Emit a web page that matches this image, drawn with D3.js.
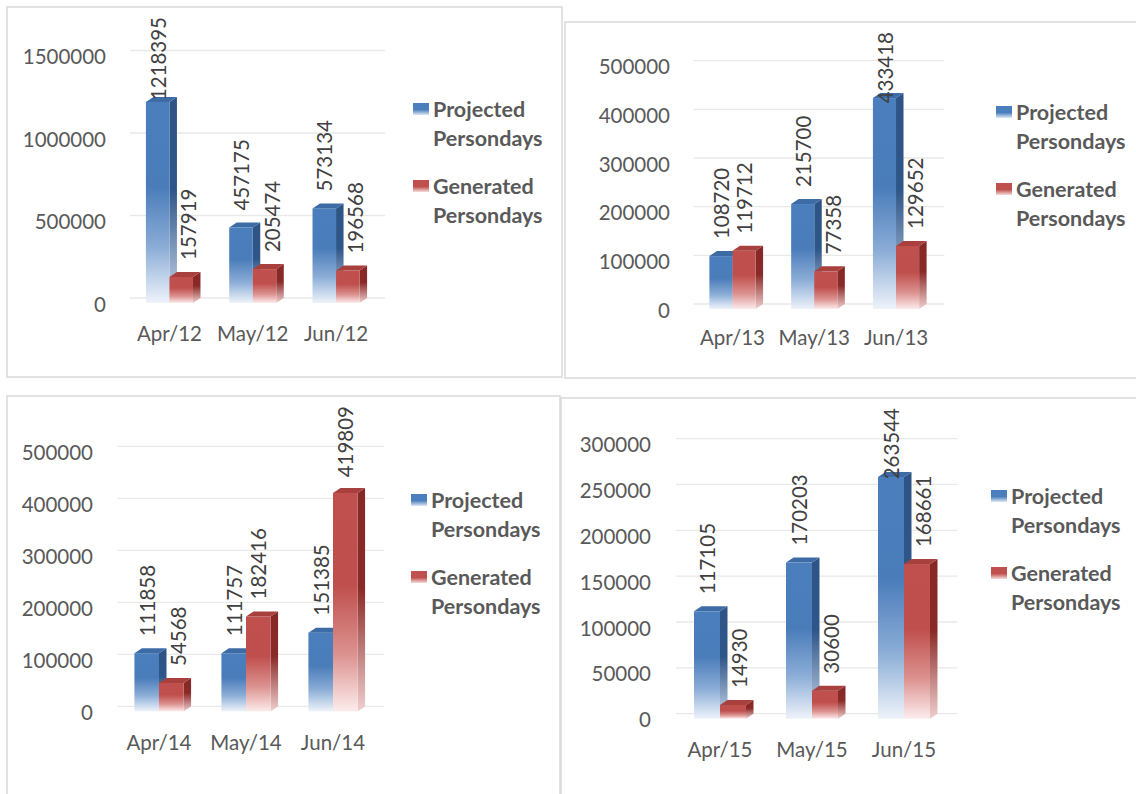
<!DOCTYPE html>
<html>
<head>
<meta charset="utf-8">
<script src="https://cdn.jsdelivr.net/npm/d3@7"></script>
<style>
  html, body { margin: 0; padding: 0; background: #ffffff; }
  svg { display: block; }
  text { font-family: Lato, "Open Sans", "Liberation Sans", sans-serif; }
</style>
</head>
<body>
<svg id="chart" width="1136" height="794"></svg>
<script>
// ---- data ----
const seriesNames = [["Projected", "Persondays"], ["Generated", "Persondays"]];

const categories12 = ["Apr/12", "May/12", "Jun/12"];
const projected12  = [1218395, 457175, 573134];
const generated12  = [157919, 205474, 196568];
const ticks12      = [0, 500000, 1000000, 1500000];

const categories13 = ["Apr/13", "May/13", "Jun/13"];
const projected13  = [108720, 215700, 433418];
const generated13  = [119712, 77358, 129652];
const ticks13      = [0, 100000, 200000, 300000, 400000, 500000];

const categories14 = ["Apr/14", "May/14", "Jun/14"];
const projected14  = [111858, 111757, 151385];
const generated14  = [54568, 182416, 419809];
const ticks14      = [0, 100000, 200000, 300000, 400000, 500000];

const categories15 = ["Apr/15", "May/15", "Jun/15"];
const projected15  = [117105, 170203, 263544];
const generated15  = [14930, 30600, 168661];
const ticks15      = [0, 50000, 100000, 150000, 200000, 250000, 300000];

// ---- layout of the four panels ----
const panels = [
  { cats: categories12, proj: projected12, gen: generated12, ticks: ticks12,
    box: [7, 7, 555, 370], plot: [127.8, 377.7], y0: 303, yTop: 55.5,
    tickX: 106, catY: 334, legX: 413, legY: 109 },
  { cats: categories13, proj: projected13, gen: generated13, ticks: ticks13,
    box: [565, 22, 600, 356], plot: [691.6, 936.9], y0: 309, yTop: 65.7,
    tickX: 670, catY: 338, legX: 996, legY: 112 },
  { cats: categories14, proj: projected14, gen: generated14, ticks: ticks14,
    box: [7, 396, 553, 420], plot: [115.5, 376.5], y0: 711.4, yTop: 451.3,
    tickX: 93, catY: 743, legX: 411, legY: 500 },
  { cats: categories15, proj: projected15, gen: generated15, ticks: ticks15,
    box: [561, 398, 600, 420], plot: [674, 950], y0: 718.7, yTop: 443.6,
    tickX: 651, catY: 750, legX: 991, legY: 496 }
];

const DX = 7.5, DY = -5;           // depth of the 3D columns
const AXIS_COLOR = "#595959";
const LABEL_COLOR = "#404040";

const svg = d3.select("#chart");
const defs = svg.append("defs");

// gradients: solid at the top, washing out toward the floor
function vGrad(id, stops) {
  const g = defs.append("linearGradient").attr("id", id)
    .attr("x1", 0).attr("y1", 0).attr("x2", 0).attr("y2", 1);
  stops.forEach(([o, c]) => g.append("stop").attr("offset", o).attr("stop-color", c));
}
vGrad("blueFront", [[0, "#4a7ebd"], [0.42, "#4a7cba"], [0.72, "#8aacd6"], [1, "#eef3fa"]]);
vGrad("blueSide",  [[0, "#2d5485"], [0.45, "#2f5688"], [1, "#c9d7ea"]]);
vGrad("redFront",  [[0, "#c0504d"], [0.42, "#bf4f4c"], [0.74, "#dc9290"], [1, "#fcecec"]]);
vGrad("redSide",   [[0, "#862826"], [0.45, "#8a2a28"], [1, "#efcfce"]]);
vGrad("blueKey",   [[0, "#4a7ebd"], [0.55, "#4a7ebd"], [1, "#dfe8f4"]]);
vGrad("redKey",    [[0, "#c0504d"], [0.55, "#c0504d"], [1, "#f6dcdb"]]);

const faces = [
  { front: "url(#blueFront)", side: "url(#blueSide)", top: "#3d6ba6", key: "url(#blueKey)" },
  { front: "url(#redFront)",  side: "url(#redSide)",  top: "#a8413e", key: "url(#redKey)" }
];

panels.forEach(p => {
  const g = svg.append("g");

  // frame
  g.append("rect")
    .attr("x", p.box[0]).attr("y", p.box[1])
    .attr("width", p.box[2]).attr("height", p.box[3])
    .attr("fill", "none").attr("stroke", "#d9d9d9").attr("stroke-width", 1.5);

  const maxTick = d3.max(p.ticks);
  const y = d3.scaleLinear().domain([0, maxTick]).range([p.y0, p.yTop]);
  const x = d3.scaleBand().domain(p.cats).range(p.plot)
    .paddingInner(0.435).paddingOuter(0.2175);
  const xs = d3.scaleBand().domain([0, 1]).range([0, x.bandwidth()]);

  // back-wall gridlines
  g.selectAll(".grid").data(p.ticks).join("line")
    .attr("x1", p.plot[0] + 2).attr("x2", p.plot[1] + DX)
    .attr("y1", d => y(d) + DY).attr("y2", d => y(d) + DY)
    .attr("stroke", "#e9e9e9").attr("stroke-width", 1.3);

  // value axis labels
  const yAxis = d3.axisLeft(y).tickValues(p.ticks).tickSize(0).tickPadding(0)
    .tickFormat(d3.format("d"));
  const ya = g.append("g").attr("transform", `translate(${p.tickX},1.5)`).call(yAxis);
  ya.select(".domain").remove();
  ya.selectAll("text").attr("font-size", 20.5).attr("fill", AXIS_COLOR)
    .attr("font-family", "Lato, 'Open Sans', sans-serif");

  // category labels
  const xAxis = d3.axisBottom(x).tickSize(0).tickPadding(0);
  const xa = g.append("g").attr("transform", `translate(0,${p.catY})`).call(xAxis);
  xa.select(".domain").remove();
  xa.selectAll("text").attr("font-size", 20.5).attr("fill", AXIS_COLOR)
    .attr("dy", "0.35em").attr("font-family", "Lato, 'Open Sans', sans-serif");

  // columns
  const labelTopLimit = p.box[1] + 10;
  p.cats.forEach((c, i) => {
    const vals = [p.proj[i], p.gen[i]];
    const geo = vals.map((v, s) => {
      const x0 = x(c) + xs(s), w = xs.bandwidth();
      return { v, s, x0, w, top: y(v), base: y(0) };
    });

    geo.forEach(b => {
      const f = faces[b.s];
      const h = b.base - b.top;
      // right side face
      g.append("path")
        .attr("d", `M${b.x0 + b.w},${b.top} L${b.x0 + b.w + DX},${b.top + DY} ` +
                   `L${b.x0 + b.w + DX},${b.base + DY} L${b.x0 + b.w},${b.base} Z`)
        .attr("fill", f.side);
      // front face
      g.append("rect").attr("x", b.x0).attr("y", b.top)
        .attr("width", b.w).attr("height", Math.max(h, 0.1)).attr("fill", f.front);
      // top face
      g.append("path")
        .attr("d", `M${b.x0},${b.top} L${b.x0 + DX},${b.top + DY} ` +
                   `L${b.x0 + b.w + DX},${b.top + DY} L${b.x0 + b.w},${b.top} Z`)
        .attr("fill", f.top);
    });

    // value labels, rotated, standing above each column
    geo.forEach(b => {
      let cx = b.x0 + b.w / 2 + 1;
      const t = g.append("text")
        .attr("font-size", 20.5).attr("fill", LABEL_COLOR)
        .attr("text-anchor", "start").attr("dy", "0.35em")
        .text(b.v);
      const len = t.node().getComputedTextLength();
      let bottom = b.top - 17;
      if (bottom - len < labelTopLimit) bottom = labelTopLimit + len;
      if (b.s === 1) {
        // keep the label clear of the neighbouring projected column
        const blue = geo[0];
        if (bottom > blue.top + DY) cx = Math.max(cx, blue.x0 + blue.w + DX + 5 + 7.2);
      }
      t.attr("transform", `translate(${cx},${bottom}) rotate(-90)`);
    });
  });

  // legend
  seriesNames.forEach((lines, s) => {
    const cy = p.legY + s * 77;
    g.append("rect").attr("x", p.legX).attr("y", cy - 6)
      .attr("width", 16).attr("height", 12).attr("fill", faces[s].key);
    lines.forEach((ln, k) => {
      g.append("text").attr("x", p.legX + 20).attr("y", cy + k * 29)
        .attr("dy", "0.35em").attr("font-size", 21.5).attr("font-weight", "bold")
        .attr("fill", AXIS_COLOR).text(ln);
    });
  });
});
</script>
</body>
</html>
